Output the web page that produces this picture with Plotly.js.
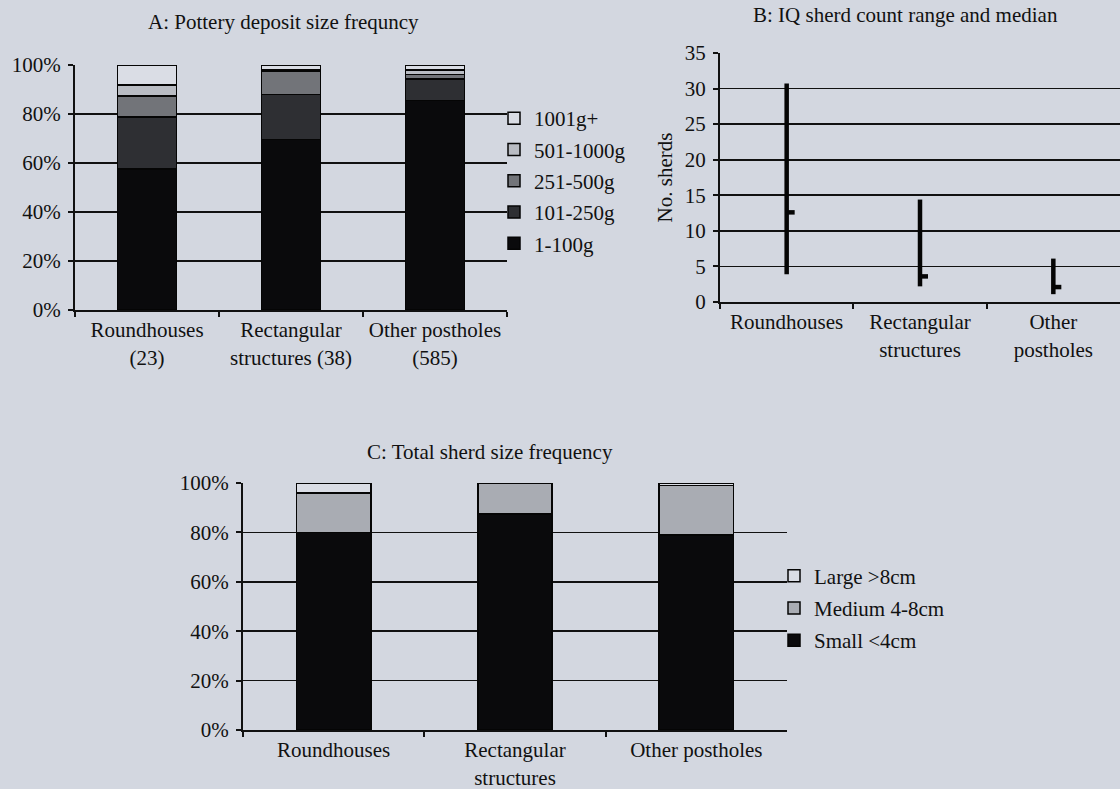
<!DOCTYPE html>
<html>
<head>
<meta charset="utf-8">
<script src="https://cdn.plot.ly/plotly-3.0.1.min.js"></script>
<style>
html,body{margin:0;padding:0;background:#d3d7e0;}
#chart{width:1120px;height:789px;}
</style>
</head>
<body>
<div id="chart"></div>
<script>
// ---- Panel A data: pottery deposit size frequency (%) ----
const catsA = ["Roundhouses<br>(23)", "Rectangular<br>structures (38)", "Other postholes<br>(585)"];
const namesA = ["1-100g", "101-250g", "251-500g", "501-1000g", "1001g+"];
const a_1_100 = [57.6, 69.5, 85.5];
const a_101_250 = [21.2, 18.5, 8.7];
const a_251_500 = [8.6, 9.5, 2.0];
const a_501_1000 = [4.5, 0.5, 1.7];
const a_1001 = [8.1, 2.0, 2.1];
const colorsA = ["#0a0a0c", "#2e2f33", "#727479", "#b9bcc3", "#dadde5"];

// ---- Panel B data: IQ sherd count range and median ----
const catsB = ["Roundhouses", "Rectangular<br>structures", "Other<br>postholes"];
const iqLow = [3.9, 2.2, 1.1];
const iqHigh = [30.7, 14.4, 6.1];
const iqMedian = [12.6, 3.6, 2.1];

// ---- Panel C data: total sherd size frequency (%) ----
const catsC = ["Roundhouses", "Rectangular<br>structures", "Other postholes"];
const namesC = ["Small <4cm", "Medium 4-8cm", "Large >8cm"];
const c_small = [80, 87.5, 79];
const c_medium = [16, 12.5, 20];
const c_large = [4, 0, 1];
const colorsC = ["#0a0a0c", "#a9acb3", "#dadde5"];

const FONT = "Liberation Serif, Times New Roman, serif";
const FS = 21;
const BG = "#d3d7e0";
const W = 1120, H = 789;
const px = v => v / W;
const py = v => 1 - v / H;

const traces = [];
const seriesA = [a_1_100, a_101_250, a_251_500, a_501_1000, a_1001];
seriesA.forEach((vals, i) => {
  traces.push({
    type: "bar", x: catsA, y: vals, name: namesA[i],
    xaxis: "x", yaxis: "y", legend: "legend", legendgroup: "A" + i,
    legendrank: 100 - i,
    marker: {color: colorsA[i], line: {color: "#050505", width: 1.5}},
    hoverinfo: "skip"
  });
});

const seriesC = [c_small, c_medium, c_large];
seriesC.forEach((vals, i) => {
  traces.push({
    type: "bar", x: catsC, y: vals, name: namesC[i],
    xaxis: "x3", yaxis: "y3", legend: "legend2", legendgroup: "C" + i,
    legendrank: 100 - i,
    marker: {color: colorsC[i], line: {color: "#050505", width: 1.5}},
    hoverinfo: "skip"
  });
});

// Panel B: dummy trace to set categories on the labelled axis
traces.push({
  type: "scatter", mode: "markers", x: catsB, y: iqLow,
  xaxis: "x2", yaxis: "y2", marker: {opacity: 0, size: 1}, showlegend: false, hoverinfo: "skip"
});
// range lines
const rx = [], ry = [];
iqLow.forEach((lo, i) => { rx.push(i, i, null); ry.push(lo, iqHigh[i], null); });
traces.push({
  type: "scatter", mode: "lines", x: rx, y: ry, xaxis: "x4", yaxis: "y2",
  line: {color: "#050505", width: 4.5}, showlegend: false, hoverinfo: "skip"
});
// median ticks to the right of the range line
const mx = [], my = [];
iqMedian.forEach((m, i) => { mx.push(i, i + 0.06, null); my.push(m, m, null); });
traces.push({
  type: "scatter", mode: "lines", x: mx, y: my, xaxis: "x4", yaxis: "y2",
  line: {color: "#050505", width: 4.5}, showlegend: false, hoverinfo: "skip"
});

const tickFont = {family: FONT, size: FS, color: "#111"};
const catAxis = (domain, anchor) => ({
  domain: domain, anchor: anchor, type: "category", range: [-0.5, 2.5],
  showline: true, linecolor: "#111", linewidth: 2,
  ticks: "outside", tickson: "boundaries", ticklen: 5, tickwidth: 2, tickcolor: "#111",
  showgrid: false, zeroline: false, tickfont: tickFont, fixedrange: true
});
const valAxis = (domain, anchor, range, dtick, suffix) => ({
  domain: domain, anchor: anchor, range: range, dtick: dtick, tick0: 0,
  ticksuffix: suffix, showline: true, linecolor: "#111", linewidth: 2,
  ticks: "outside", ticklen: 5, tickwidth: 2, tickcolor: "#111",
  showgrid: true, gridcolor: "#111", gridwidth: 1.8, zeroline: false,
  tickfont: tickFont, fixedrange: true, ticklabelstandoff: 3
});

const layout = {
  width: W, height: H,
  margin: {l: 0, r: 0, t: 0, b: 0, pad: 0},
  paper_bgcolor: BG, plot_bgcolor: BG,
  font: {family: FONT, size: FS, color: "#111"},
  barmode: "stack", bargap: 0.59,
  xaxis: catAxis([px(75), px(507)], "y"),
  yaxis: valAxis([py(310), py(65)], "x", [0, 100], 20, "%"),
  xaxis2: catAxis([px(720), px(1120)], "y2"),
  yaxis2: Object.assign(valAxis([py(302), py(53)], "x2", [0, 35], 5, ""),
    {title: {text: "No. sherds", font: {family: FONT, size: FS, color: "#111"}, standoff: 6}}),
  xaxis4: {overlaying: "x2", anchor: "y2", range: [-0.5, 2.5], visible: false, fixedrange: true},
  xaxis3: catAxis([px(243), px(787)], "y3"),
  yaxis3: valAxis([py(730), py(483)], "x3", [0, 100], 20, "%"),
  legend: {
    x: px(494), y: py(181), xanchor: "left", yanchor: "middle",
    traceorder: "grouped", tracegroupgap: 1,
    bgcolor: "rgba(0,0,0,0)", font: {family: FONT, size: FS, color: "#111"},
    itemwidth: 30
  },
  legend2: {
    x: px(774), y: py(608), xanchor: "left", yanchor: "middle",
    traceorder: "grouped", tracegroupgap: 2,
    bgcolor: "rgba(0,0,0,0)", font: {family: FONT, size: FS, color: "#111"},
    itemwidth: 30
  },
  annotations: [
    {text: "A: Pottery deposit size frequncy", x: px(283), y: py(22), xref: "paper", yref: "paper",
     showarrow: false, xanchor: "center", yanchor: "middle", font: {family: FONT, size: FS, color: "#111"}},
    {text: "B: IQ sherd count range and median", x: px(905), y: py(15), xref: "paper", yref: "paper",
     showarrow: false, xanchor: "center", yanchor: "middle", font: {family: FONT, size: FS, color: "#111"}},
    {text: "C: Total sherd size frequency", x: px(490), y: py(452), xref: "paper", yref: "paper",
     showarrow: false, xanchor: "center", yanchor: "middle", font: {family: FONT, size: FS, color: "#111"}}
  ],
  showlegend: true
};

Plotly.newPlot("chart", traces, layout, {displayModeBar: false, staticPlot: true});
</script>
</body>
</html>
